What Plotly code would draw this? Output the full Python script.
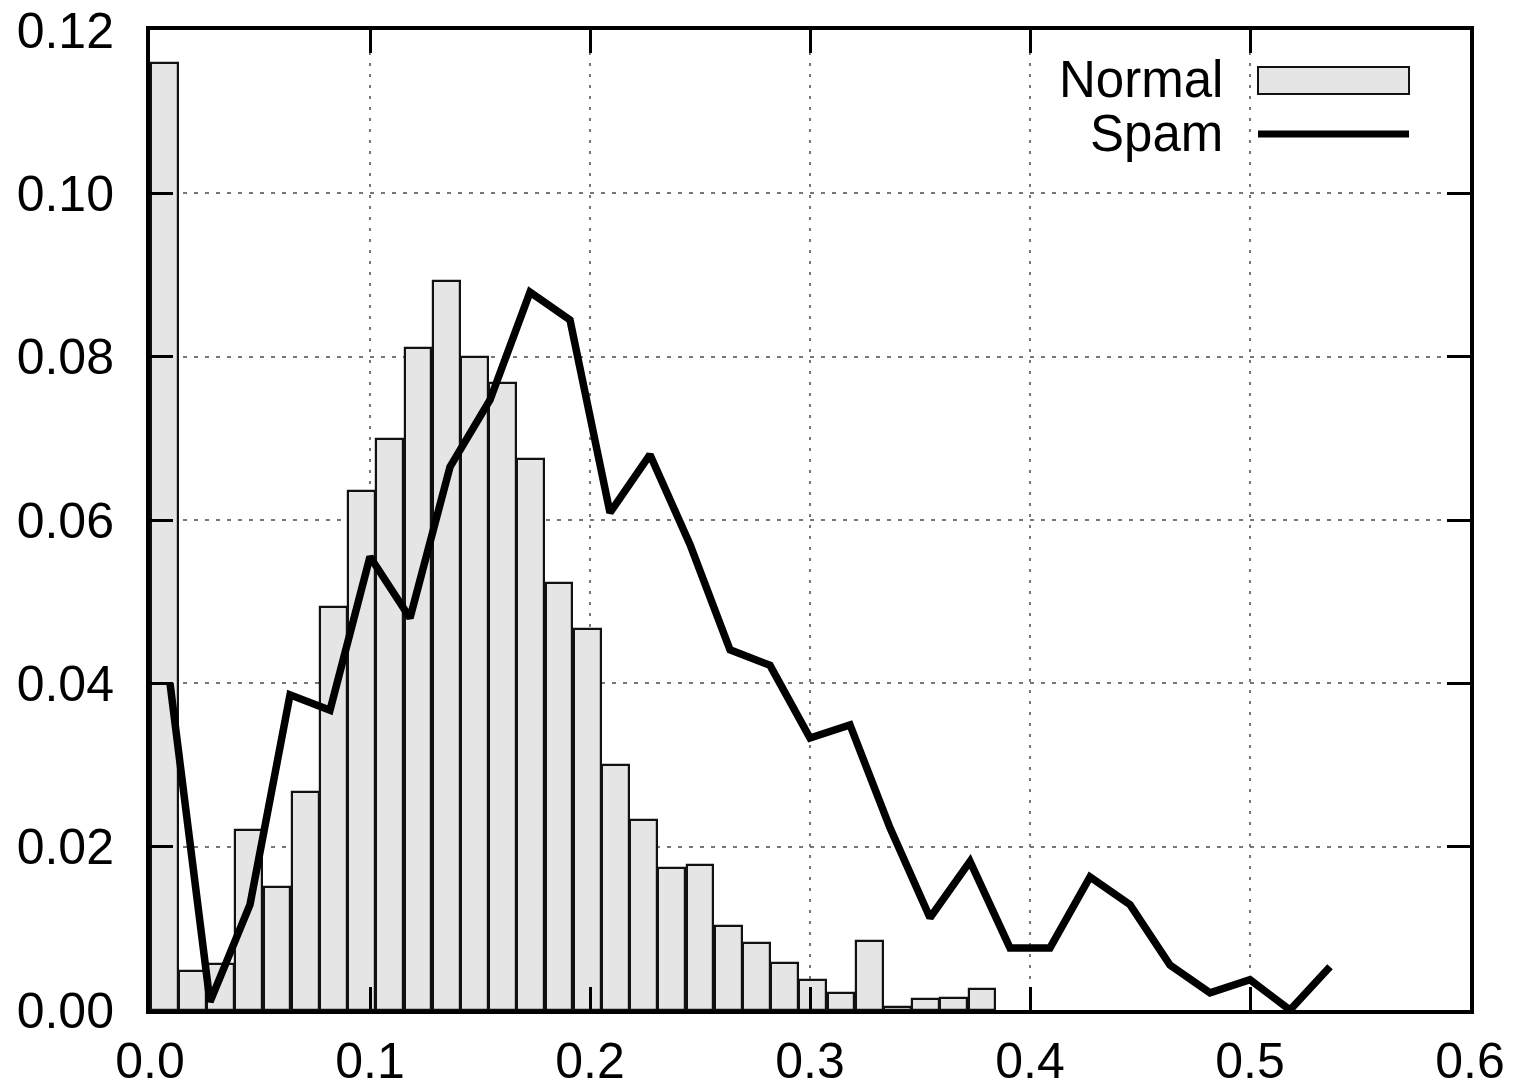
import plotly.graph_objects as go

# Normal: histogram bars (bin centers, heights)
normal_x = [0.00641, 0.01923, 0.03205, 0.04487, 0.05769, 0.07051, 0.08333, 0.09615,
            0.10897, 0.12179, 0.13462, 0.14744, 0.16026, 0.17308, 0.18590, 0.19872,
            0.21154, 0.22436, 0.23718, 0.25000, 0.26282, 0.27564, 0.28846, 0.30128,
            0.31410, 0.32692, 0.33974, 0.35256, 0.36538, 0.37821]
normal_y = [0.1160, 0.0048, 0.0056, 0.0220, 0.0151, 0.0267, 0.0493, 0.0636,
            0.0699, 0.0811, 0.0893, 0.0800, 0.0768, 0.0675, 0.0523, 0.0466,
            0.0300, 0.0233, 0.0174, 0.0177, 0.0103, 0.0082, 0.0058, 0.0037,
            0.0021, 0.0084, 0.0004, 0.0013, 0.0015, 0.0026]
bar_width = 0.0122

# Spam: line
spam_x = [0.00909, 0.02727, 0.04545, 0.06364, 0.08182, 0.10000, 0.11818, 0.13636,
          0.15455, 0.17273, 0.19091, 0.20909, 0.22727, 0.24545, 0.26364, 0.28182,
          0.30000, 0.31818, 0.33636, 0.35455, 0.37273, 0.39091, 0.40909, 0.42727,
          0.44545, 0.46364, 0.48182, 0.50000, 0.51818, 0.53636]
spam_y = [0.0400, 0.0010, 0.0129, 0.0386, 0.0367, 0.0555, 0.0480, 0.0665,
          0.0747, 0.0879, 0.0845, 0.0609, 0.0680, 0.0570, 0.0441, 0.0422,
          0.0333, 0.0349, 0.0223, 0.0113, 0.0182, 0.0076, 0.0076, 0.0163,
          0.0129, 0.0055, 0.0021, 0.0037, 0.0000, 0.0053]

x_ticks = [0.0, 0.1, 0.2, 0.3, 0.4, 0.5, 0.6]
y_ticks = [0.00, 0.02, 0.04, 0.06, 0.08, 0.10, 0.12]
legend_names = ["Normal", "Spam"]

FONT = "Liberation Sans, Arial, Helvetica, sans-serif"
FONT_SIZE = 50
BAR_FILL = "#e5e5e5"

fig = go.Figure()
fig.add_trace(go.Bar(
    x=normal_x, y=normal_y, width=[bar_width] * len(normal_x),
    marker=dict(color=BAR_FILL, line=dict(color="#111111", width=2.2)),
    name=legend_names[0], showlegend=False,
))
fig.add_trace(go.Scatter(
    x=spam_x, y=spam_y, mode="lines",
    line=dict(color="black", width=7.5),
    name=legend_names[1], showlegend=False,
))

axis_common = dict(
    showline=True, linecolor="black", linewidth=4, mirror="ticks",
    ticks="inside", ticklen=23, tickwidth=2.5, tickcolor="black",
    showgrid=True, gridcolor="#777777", gridwidth=1.6,
    zeroline=False, automargin=False,
    tickfont=dict(family=FONT, size=FONT_SIZE, color="black"),
)

fig.update_xaxes(range=[0, 0.6], tickvals=x_ticks, tickformat=".1f",
                 griddash="3px,8px", ticklabelstandoff=4, **axis_common)
fig.update_yaxes(range=[0, 0.12], tickvals=y_ticks, tickformat=".2f",
                 griddash="4px,7px", ticklabelstandoff=22, **axis_common)

# Manual key (gnuplot style: text left of sample, opaque background)
fig.add_shape(type="rect", xref="paper", yref="paper",
              x0=0.678, x1=0.962, y0=0.8653, y1=0.9765,
              fillcolor="white", line=dict(width=0), layer="between")
fig.add_shape(type="rect", xref="paper", yref="paper",
              x0=0.8394, x1=0.9538, y0=0.9347, y1=0.9622,
              fillcolor=BAR_FILL, line=dict(color="#111111", width=2))
fig.add_shape(type="line", xref="paper", yref="paper",
              x0=0.8394, x1=0.9538, y0=0.8939, y1=0.8939,
              line=dict(color="black", width=7))
fig.add_annotation(text=legend_names[0], xref="paper", yref="paper",
                   x=0.8144, y=0.950, xanchor="right", yanchor="middle",
                   showarrow=False, font=dict(family=FONT, size=FONT_SIZE + 1, color="black"))
fig.add_annotation(text=legend_names[1], xref="paper", yref="paper",
                   x=0.8144, y=0.8944, xanchor="right", yanchor="middle",
                   showarrow=False, font=dict(family=FONT, size=FONT_SIZE + 1, color="black"))

fig.update_layout(
    width=1515, height=1087,
    margin=dict(l=150, r=45, t=30, b=77, autoexpand=False),
    paper_bgcolor="white", plot_bgcolor="white",
    bargap=0, showlegend=False,
)

fig.write_html(
    "out.html",
    config={"displayModeBar": False},
    post_script="document.body.style.margin='0';document.body.style.overflow='hidden';",
)
